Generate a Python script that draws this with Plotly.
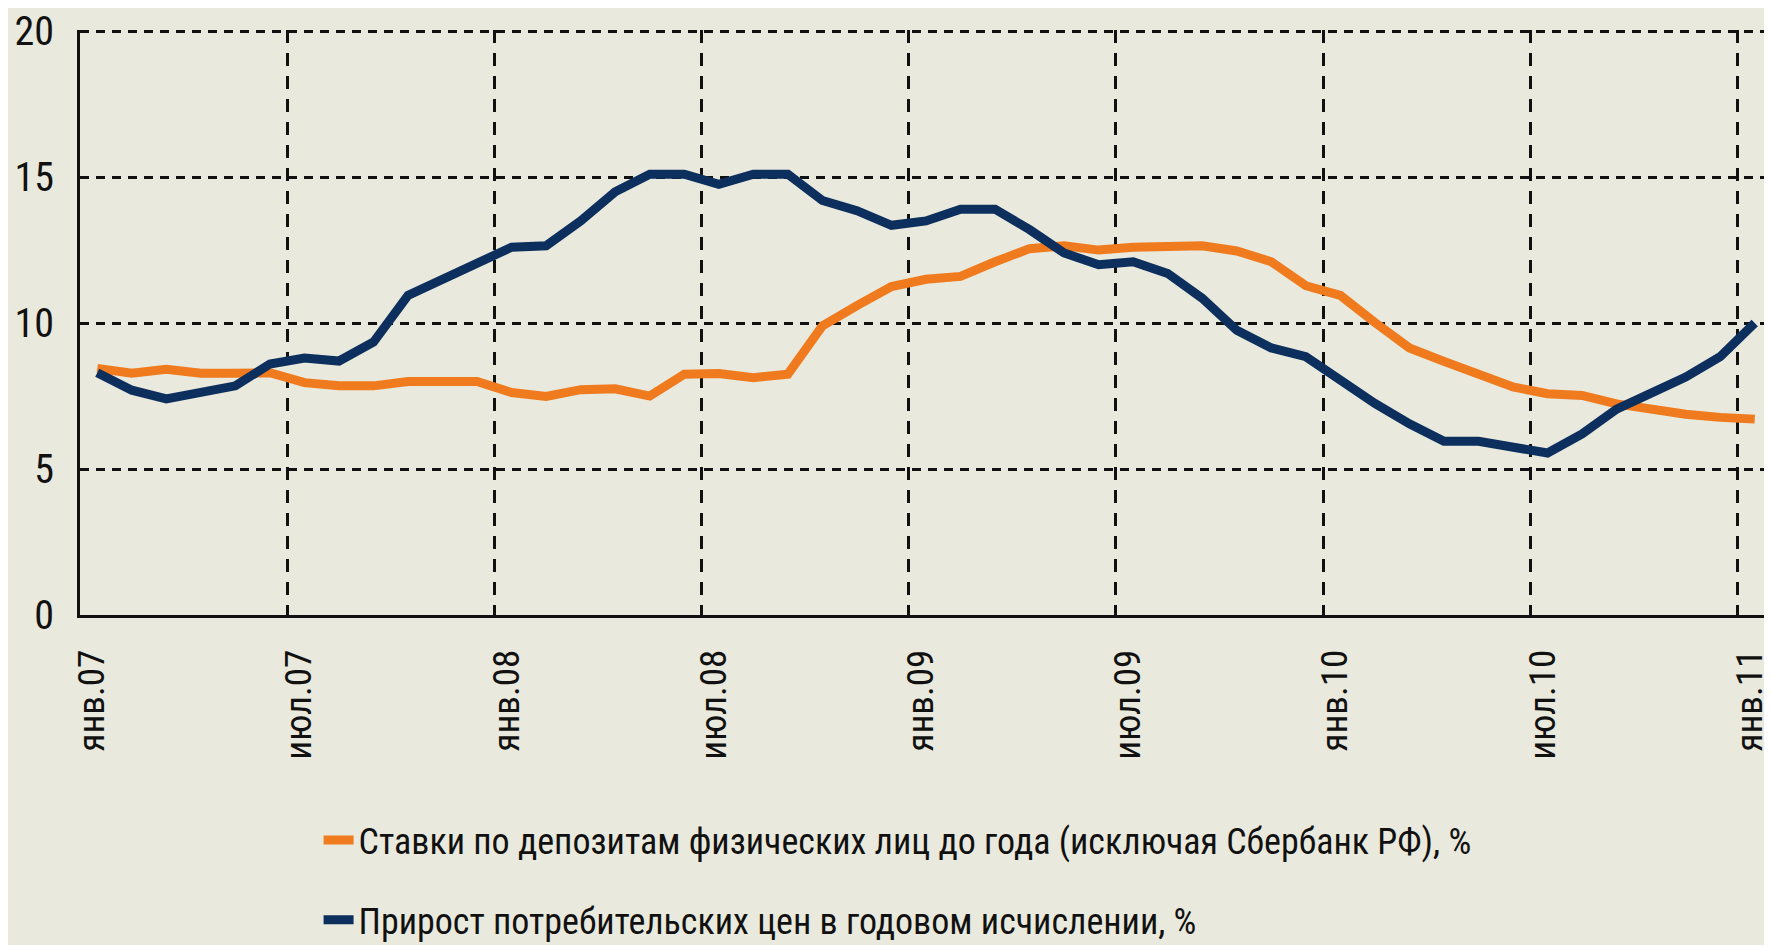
import plotly.graph_objects as go

# Monthly observations, Jan 2007 .. Jan 2011 (49 months)
month_index = list(range(49))

deposit_rates = [8.45, 8.28, 8.42, 8.28, 8.28, 8.3, 7.96, 7.85, 7.85, 8.0, 8.0, 8.0,
                 7.62, 7.49, 7.72, 7.75, 7.5, 8.25, 8.27, 8.13, 8.25, 9.9, 10.6, 11.25,
                 11.5, 11.6, 12.1, 12.55, 12.65, 12.5, 12.6, 12.6, 12.65, 12.47, 12.1, 11.28,
                 10.95, 10.02, 9.15, 8.69, 8.22, 7.81, 7.58, 7.52, 7.23, 7.02, 6.88, 6.77,
                 6.71]

cpi_growth = [8.3, 7.7, 7.4, 7.65, 7.85, 8.6, 8.8, 8.7, 9.35, 10.95, 11.5, 12.0,
              12.6, 12.65, 13.5, 14.5, 15.1, 15.1, 14.75, 15.1, 15.1, 14.2, 13.85, 13.35,
              13.5, 13.9, 13.9, 13.2, 12.4, 12.0, 12.1, 11.7, 10.85, 9.75, 9.15, 8.85,
              8.05, 7.25, 6.55, 5.95, 5.95, 5.75, 5.55, 6.2, 7.05, 7.6, 8.15, 8.85,
              10.0]

tick_positions = [0, 6, 12, 18, 24, 30, 36, 42, 48]
tick_labels = ["янв.07", "июл.07", "янв.08", "июл.08", "янв.09",
               "июл.09", "янв.10", "июл.10", "янв.11"]
grid_positions = [5.5, 11.5, 17.5, 23.5, 29.5, 35.5, 41.5, 47.5]
y_ticks = [0, 5, 10, 15, 20]

series_names = ["Ставки по депозитам физических лиц до года (исключая Сбербанк РФ), %",
                "Прирост потребительских цен в годовом исчислении, %"]
colors = ["#F07A1E", "#0C2F5E"]

FONT = "Liberation Sans Narrow, Roboto Condensed, Arial Narrow, DejaVu Sans Condensed, sans-serif"
BG = "#E9E9DD"

fig = go.Figure()
fig.add_trace(go.Scatter(x=month_index, y=deposit_rates, mode="lines",
                         name=series_names[0], legendgroup="a",
                         line=dict(color=colors[0], width=9)))
fig.add_trace(go.Scatter(x=month_index, y=cpi_growth, mode="lines",
                         name=series_names[1], legendgroup="b",
                         line=dict(color=colors[1], width=9)))
# helper trace for the vertical-gridline axis
fig.add_trace(go.Scatter(x=month_index, y=cpi_growth, xaxis="x2", mode="lines",
                         line=dict(width=0), opacity=0, showlegend=False,
                         hoverinfo="skip"))

fig.update_layout(
    width=1764, height=937,
    paper_bgcolor=BG, plot_bgcolor=BG,
    margin=dict(l=72, r=0, t=22, b=330, autoexpand=False),
    font=dict(family=FONT, size=40, color="#111111"),
    showlegend=True,
    legend=dict(x=0.141, xanchor="left", xref="paper",
                y=0.144, yanchor="top", yref="container",
                bgcolor="rgba(0,0,0,0)", font=dict(family=FONT, size=36, color="#111111"),
                traceorder="grouped", tracegroupgap=30, itemwidth=30),
    xaxis=dict(range=[-0.5, 48.5], tickmode="array", tickvals=tick_positions,
               ticktext=tick_labels, tickangle=-90, showgrid=False, zeroline=False,
               showline=True, linecolor="#111111", linewidth=3, ticks="",
               ticklabelstandoff=17, ticklabelshift=-5, ticklabeloverflow="allow",
               tickfont=dict(family=FONT, size=37)),
    xaxis2=dict(range=[-0.5, 48.5], overlaying="x", anchor="y", tickmode="array",
                tickvals=grid_positions, showticklabels=False, ticks="",
                showgrid=True, gridcolor="#111111", gridwidth=3, griddash="13px,10px",
                zeroline=False, showline=False),
    yaxis=dict(range=[0, 20.04], tickmode="array", tickvals=y_ticks, showgrid=True,
               gridcolor="#111111", gridwidth=3, griddash="9px,7px", zeroline=False,
               showline=True, linecolor="#111111", linewidth=3, ticks="",
               ticklabelstandoff=15, ticklabeloverflow="allow",
               tickfont=dict(family=FONT, size=40)),
)

fig.write_html("out.html")
